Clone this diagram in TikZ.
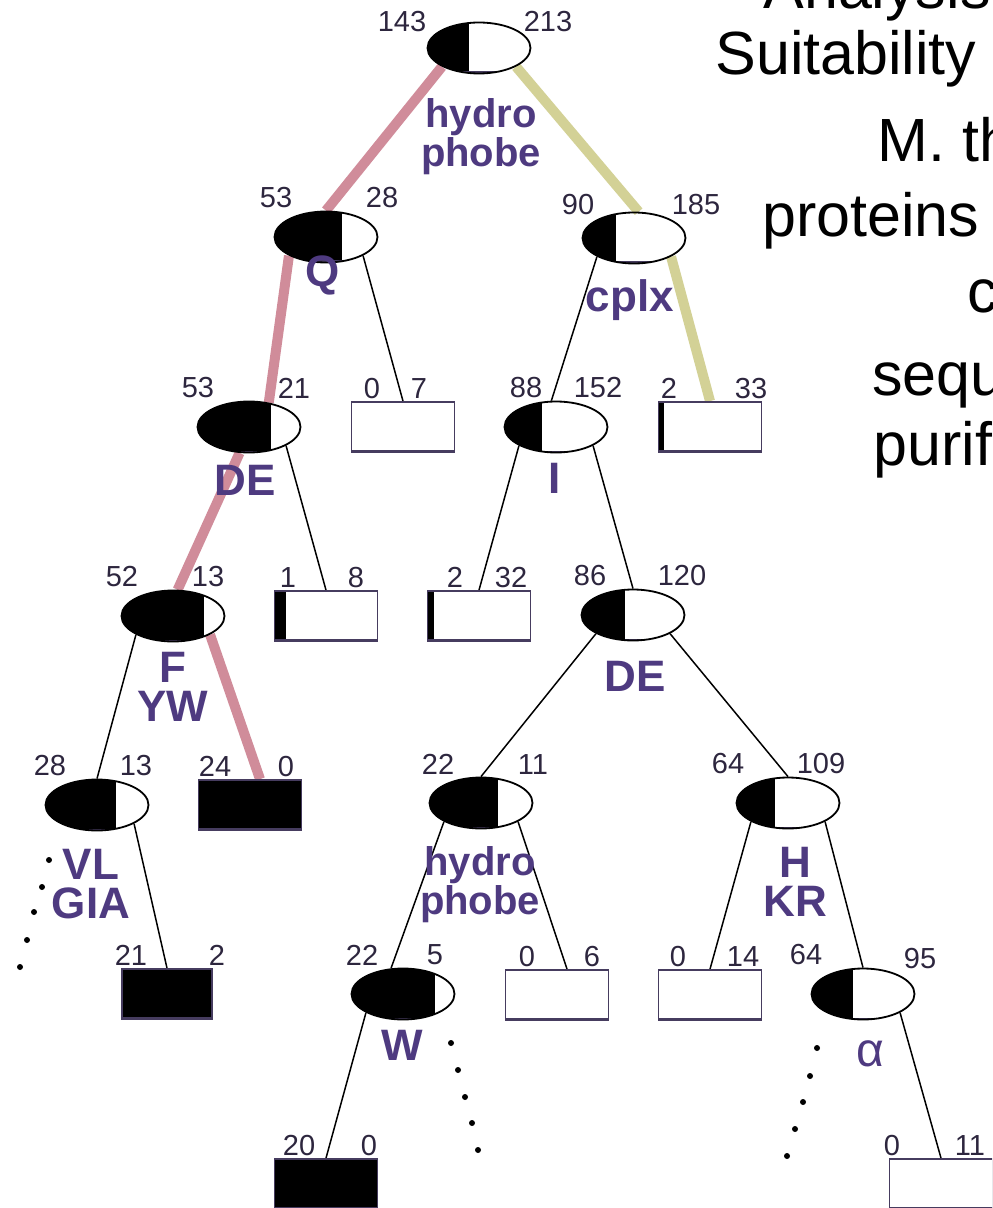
\documentclass[tikz,border=0pt]{standalone}
\usepackage{fontspec}
\setmainfont{Liberation Sans}
\usetikzlibrary{calc,shapes.geometric,backgrounds}

\definecolor{pathred}{RGB}{208,140,154}
\definecolor{pathyel}{RGB}{211,209,150}
\definecolor{critc}{RGB}{78,58,128}
\definecolor{numc}{RGB}{45,38,62}
\definecolor{boxc}{RGB}{70,60,95}

\tikzset{
  cnt/.style={font=\fontsize{14.5}{16}\selectfont,text=numc,inner sep=1pt,anchor=south},
  crit/.style={font=\fontsize{22}{19.5}\selectfont\bfseries,text=critc,align=center,inner sep=0pt},
  critsm/.style={crit,font=\fontsize{20}{17.5}\selectfont\bfseries},
  % black share of a node = left count / (left + right)
  share/.style 2 args={path picture={\pgfmathsetmacro\frc{#1/(#1+#2)}
      \fill (path picture bounding box.north west) rectangle ($(path picture bounding box.south west)!\frc!(path picture bounding box.south east)$);
      \draw[boxc,line width=2pt] (path picture bounding box.south west) -- (path picture bounding box.south east);}},
  tally/.style n args={4}{ellipse,draw,line width=0.9pt,minimum width=51.5pt,minimum height=25.5pt,inner sep=0pt,
    share={#1}{#2},
    label={[cnt,#3]north:#1},
    label={[cnt,#4]north:#2}},
  leafbox/.style n args={4}{rectangle,draw=boxc,line width=0.9pt,minimum width=51.5pt,minimum height=25pt,inner sep=0pt,
    share={#1}{#2},
    label={[cnt,#3]north:#1},
    label={[cnt,#4]north:#2}},
  arm/.style={line width=0.75pt},
  redarm/.style={line width=5pt,pathred},
  yelarm/.style={line width=5pt,pathyel},
  slide/.style={font=\fontsize{30.5}{36}\selectfont,anchor=base west,inner sep=0pt},
}

\begin{document}
\begin{tikzpicture}[x=0.5pt,y=-0.5pt]
	\useasboundingbox (0,0) rectangle (992,1208);
	\clip (0,0) rectangle (992,1208);

	% slide text, cut at the right edge
	\node[slide] (t1) at (763,9) {Analysis};
	\node[slide] (t2) at (715,75) {Suitability};
	\node[slide] (t3) at (877,162) {M. th};
	\node[slide] (t4) at (762,237) {proteins};
	\node[slide] (t5) at (967,313) {c};
	\node[slide] (t6) at (872,395) {sequ};
	\node[slide] (t7) at (873,465) {purif};

	% tree
	\node[tally={143}{213}{xshift=-38.5pt,yshift=-6.5pt}{xshift=34.5pt,yshift=-6.5pt}] (root) at (479,48) {};
	\node[tally={53}{28}{xshift=-25pt}{xshift=28pt}] (q) at (326,237) {};
	\node[tally={90}{185}{xshift=-28pt,yshift=-3pt}{xshift=31pt,yshift=-3pt}] (cplx) at (634,238) {};
	\node[tally={53}{21}{xshift=-25.5pt}{xshift=22.5pt}] (de1) at (249,427) {};
	\node[leafbox={0}{7}{xshift=-15.5pt}{xshift=8pt}] (b07) at (403,427) {};
	\node[tally={88}{152}{xshift=-15pt}{xshift=21pt}] (i) at (556,427) {};
	\node[leafbox={2}{33}{xshift=-20.5pt}{xshift=20.5pt}] (b233) at (710,427) {};
	\node[tally={52}{13}{xshift=-25.5pt}{xshift=17.5pt}] (f) at (173,616) {};
	\node[leafbox={1}{8}{xshift=-19pt}{xshift=15pt}] (b18) at (326,616) {};
	\node[leafbox={2}{32}{xshift=-12pt}{xshift=16pt}] (b232) at (479,616) {};
	\node[tally={86}{120}{xshift=-21.5pt}{xshift=24.5pt}] (de2) at (633,615) {};
	\node[tally={28}{13}{xshift=-23.5pt}{xshift=19.5pt}] (vl) at (97,805) {};
	\node[leafbox={24}{0}{xshift=-17.5pt}{xshift=18pt}] (b240) at (250,805) {};
	\node[tally={22}{11}{xshift=-21.5pt}{xshift=26pt}] (hyd) at (481,803) {};
	\node[tally={64}{109}{xshift=-30pt}{xshift=16.5pt}] (hkr) at (788,803) {};
	\node[leafbox={21}{2}{xshift=-18pt}{xshift=25pt},minimum width=45pt,fill=black] (b212) at (167,994) {};
	\node[tally={22}{5}{xshift=-20.5pt}{xshift=16pt}] (w) at (403,994) {};
	\node[leafbox={0}{6}{xshift=-15pt}{xshift=17.5pt}] (b06) at (557,995) {};
	\node[leafbox={0}{14}{xshift=-16pt}{xshift=16.5pt}] (b014) at (710,995) {};
	\node[tally={64}{95}{xshift=-28.5pt}{xshift=28.5pt,yshift=-2pt}] (alp) at (863,994) {};
	\node[leafbox={20}{0}{xshift=-13.5pt}{xshift=21.5pt}] (b200) at (326,1184) {};
	\node[leafbox={0}{11}{xshift=-24.5pt}{xshift=14.5pt}] (b011) at (941,1184) {};

	% split criteria
	\node[critsm] (croot) at (481,137) {hydro\\phobe};
	\node[crit] (cq) at (323,275) {Q};
	\node[crit] (ccplx) at (630,300) {cplx};
	\node[crit] (cde1) at (245,480) {DE};
	\node[crit] (ci) at (555,478) {I};
	\node[crit] (cf) at (173,687) {F\\YW};
	\node[crit] (cde2) at (635,676) {DE};
	\node[crit] (cvl) at (91,884) {VL\\GIA};
	\node[critsm] (chyd) at (480,885) {hydro\\phobe};
	\node[crit] (chkr) at (795,882) {H\\KR};
	\node[crit] (cw) at (402,1045) {W};
	\node[crit,font=\fontsize{24}{24}\selectfont] (calp) at (870,1054) {α};

	\begin{scope}[on background layer]
		\draw[redarm] (root.south west) -- (q.north);
		\draw[redarm] (q.south west) -- (de1.51);
		\draw[redarm] (de1.250) -- (f.80);
		\draw[redarm] (f.south east) -- ([xshift=5pt]b240.north);
		\draw[yelarm] (root.south east) -- (cplx.80);
		\draw[yelarm] (cplx.south east) -- (b233.north);

		\draw[arm] (q.south east) -- (b07.north);
		\draw[arm] (cplx.south west) -- (i.100);
		\draw[arm] (de1.south east) -- (b18.north);
		\draw[arm] (i.south west) -- (b232.north);
		\draw[arm] (i.south east) -- (de2.north);
		\draw[arm] (f.south west) -- (vl.north);
		\draw[arm] (de2.south west) -- (hyd.north);
		\draw[arm] (de2.south east) -- (hkr.north);
		\draw[arm] (vl.south east) -- (b212.north);
		\draw[arm] (hyd.south west) -- (w.115);
		\draw[arm] (hyd.south east) -- ([xshift=5pt]b06.north);
		\draw[arm] (hkr.south west) -- (b014.north);
		\draw[arm] (hkr.south east) -- (alp.north);
		\draw[arm] (w.south west) -- (b200.north);
		\draw[arm] (alp.south east) -- (b011.north);
	\end{scope}

	% subtrees left out
	\foreach \p in {(49,860),(42,887),(34,912),(27,940),(20,967),
	                (451,1043),(458,1070),(465,1097),(472,1123),(478,1150),
	                (817,1048),(810,1076),(803,1102),(795,1129),(787,1156)}
		\fill \p circle (1.5pt);
\end{tikzpicture}
\end{document}
